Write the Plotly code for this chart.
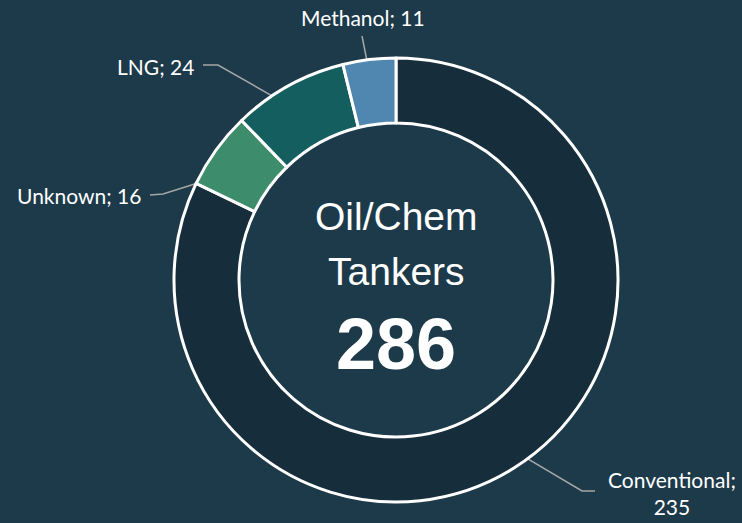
import math
import plotly.graph_objects as go

# Dados do grafico
tipos = ["Conventional", "Unknown", "LNG", "Methanol"]
navios = [235, 16, 24, 11]
cores = ["#162e3c", "#3d8c6c", "#155e60", "#5087b0"]
titulo = ["Oil/Chem", "Tankers"]

W, H = 742, 523
cx, cy, r_out, r_in = 396, 280, 222, 157
total = sum(navios)

fig = go.Figure()

# Rosca principal
fig.add_trace(
    go.Pie(
        labels=tipos,
        values=navios,
        hole=r_in / r_out,
        sort=False,
        direction="clockwise",
        rotation=0,
        marker=dict(colors=cores, line=dict(color="white", width=3)),
        textinfo="none",
        hoverinfo="label+value",
        showlegend=False,
        domain=dict(
            x=[(cx - r_out) / W, (cx + r_out) / W],
            y=[(H - cy - r_out) / H, (H - cy + r_out) / H],
        ),
    )
)

# Posicao dos rotulos (cotovelo da linha, ancora do texto)
rotulos = {
    "Conventional": dict(cot=(582, 491), fim=(595, 491), txt=(672, 493), anchor="center"),
    "Unknown": dict(cot=(163, 194), fim=(150, 195), txt=(143, 195), anchor="right"),
    "LNG": dict(cot=(218, 65), fim=(203, 65), txt=(196, 66), anchor="right"),
    "Methanol": dict(cot=(362, 36), fim=(362, 36), txt=(363, 17), anchor="center"),
}

r_mid = (r_in + r_out) / 2
acum = 0
for tipo, n in zip(tipos, navios):
    ang = (acum + n / 2) / total * 2 * math.pi
    acum += n
    x0 = cx + r_mid * math.sin(ang)
    y0 = cy - r_mid * math.cos(ang)
    p = rotulos[tipo]
    fig.add_trace(
        go.Scatter(
            x=[x0, p["cot"][0], p["fim"][0]],
            y=[y0, p["cot"][1], p["fim"][1]],
            mode="lines",
            line=dict(color="#a6a6a6", width=1.5),
            hoverinfo="skip",
            showlegend=False,
        )
    )
    texto = f"{tipo}; {n}" if tipo != "Conventional" else f"{tipo};<br>{n}"
    fig.add_annotation(
        x=p["txt"][0], y=p["txt"][1], text=texto, showarrow=False,
        xanchor=p["anchor"], yanchor="middle", align="center",
        font=dict(family="Lato, Open Sans, sans-serif", size=21, color="white"),
    )

# Texto central
fonte_centro = "Liberation Sans Narrow, Arial Narrow, Liberation Sans, sans-serif"
fig.add_annotation(
    x=cx, y=216, text=titulo[0], showarrow=False,
    font=dict(family=fonte_centro, size=39, color="white"),
)
fig.add_annotation(
    x=cx, y=271, text=titulo[1], showarrow=False,
    font=dict(family=fonte_centro, size=39, color="white"),
)
fig.add_annotation(
    x=cx, y=344, text=f"<b>{total}</b>", showarrow=False,
    font=dict(family=fonte_centro, size=72, color="white"),
)

fig.update_layout(
    width=W,
    height=H,
    margin=dict(l=0, r=0, t=0, b=0),
    paper_bgcolor="#1d3a4a",
    plot_bgcolor="rgba(0,0,0,0)",
    xaxis=dict(range=[0, W], visible=False, fixedrange=True),
    yaxis=dict(range=[H, 0], visible=False, fixedrange=True),
)

# Remove a margem padrao da pagina
fig.write_html(
    "out.html",
    config={"displayModeBar": False},
    post_script="document.body.style.margin='0';",
)
